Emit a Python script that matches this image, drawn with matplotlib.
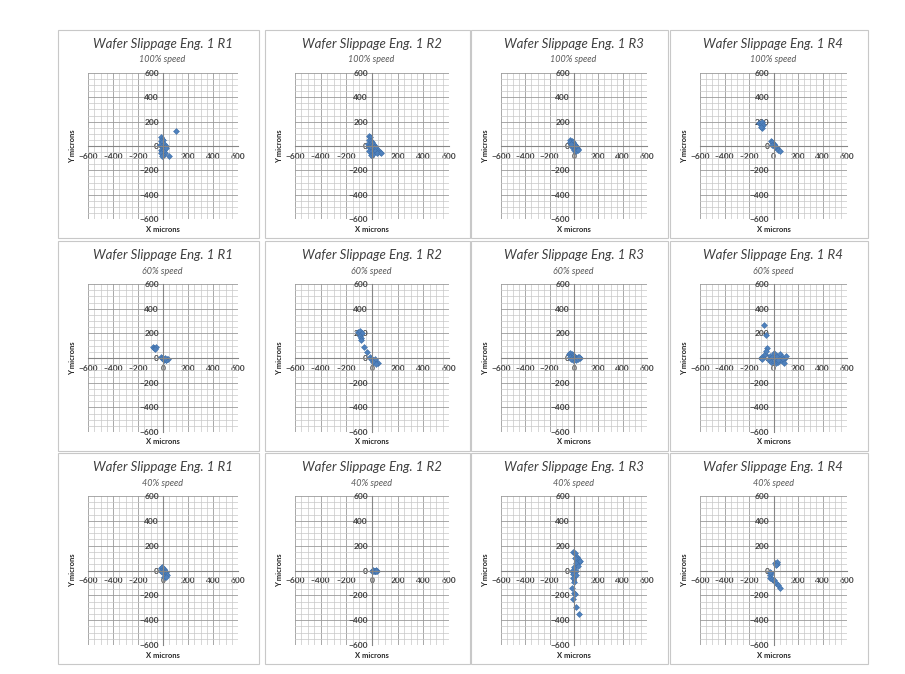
import matplotlib.pyplot as plt
from matplotlib.patches import Rectangle
from matplotlib.ticker import MultipleLocator

plt.rcParams['font.family'] = ['Lato', 'DejaVu Sans']

# run names and speeds
runs = ['R1', 'R2', 'R3', 'R4']
speeds = ['100% speed', '60% speed', '40% speed']
ticks = [-600, -400, -200, 0, 200, 400, 600]

# 100% speed
x_100_r1 = [-20, -10, 0, -15, -5, 5, -25, -10, 0, 10, -20, -5, 5, 15, -15, 0, 10, -10, 20, 25, 45, 100]
y_100_r1 = [70, 60, 50, 40, 30, 20, 10, 0, -10, -20, -30, -40, -50, -55, -60, -70, -30, -80, 0, -20, -80, 120]
x_100_r2 = [-25, -15, -20, -10, 0, -30, -15, 5, 20, -25, -5, 15, 35, 50, -20, 0, 25, 45, 65, -10, 10, 40, 70]
y_100_r2 = [80, 70, 50, 40, 30, 20, 10, 15, 0, -10, -5, -10, -20, -30, -40, -40, -40, -50, -50, -70, -65, -60, -60]
x_100_r3 = [-30, -20, -35, -10, 0, -20, -5, 10, 20, -15, 5, 25, 35, 0, 15, 30, -25]
y_100_r3 = [50, 45, 30, 30, 20, 10, 0, 10, 0, -10, -15, -20, -25, -35, -40, -30, 20]
x_100_r4 = [-120, -105, -95, -85, -90, -100, -20, -10, 0, 5, 15, 20, 30, 40, 50, -15, 10]
y_100_r4 = [190, 180, 200, 175, 150, 160, 40, 30, 20, 5, -5, -10, -20, -30, -40, 10, 0]

# 60% speed
x_60_r1 = [-80, -70, -60, -65, -20, -10, 0, 10, 20, 30, 40, 5, 25, 15]
y_60_r1 = [90, 85, 90, 75, 10, 0, -5, -10, -15, -10, -5, -20, -20, 0]
x_60_r2 = [-110, -100, -90, -80, -95, -85, -85, -60, -40, -15, -5, 5, 15, 25, 35, 45, 20, 10, 30]
y_60_r2 = [210, 200, 215, 200, 180, 160, 150, 90, 50, 5, -5, -15, -25, -30, -35, -40, -10, -30, -45]
x_60_r3 = [-40, -30, -20, -10, 0, 10, -35, -15, 5, 20, 35, 50, -5, 15, 30, -25, 45]
y_60_r3 = [30, 40, 35, 25, 20, 10, 10, 0, -5, 0, 5, 0, -15, -20, -10, -10, 10]
x_60_r4 = [-80, -60, -100, -90, -70, -50, -30, -10, 10, 30, 50, 70, 90, -40, -20, 0, 20, 40, 60, 80, -60, 0, 40, 85, 100, -95]
y_60_r4 = [270, 190, 0, 10, 30, 80, 20, 10, 0, 20, 30, 10, 0, -20, -30, -30, -40, -30, -20, -10, 60, 40, -20, -40, 20, -10]

# 40% speed
x_40_r1 = [-20, -10, 0, 10, -15, 0, 15, 25, 5, 20, 30, 10, 25, -5]
y_40_r1 = [20, 25, 10, 15, 0, -5, 0, -10, -20, -30, -40, -50, -55, -10]
x_40_r2 = [0, 10, 20, 30, 40, 15, 25, 5, 35]
y_40_r2 = [0, 5, 0, 5, 0, -8, -5, -5, -3]
x_40_r3 = [-10, 10, 25, 35, 45, 20, 50, 0, 15, -20, -10, 20, -10, 0, -20, 0, 10, -10, 20, 40, 30, 5]
y_40_r3 = [150, 140, 110, 90, 70, 60, 75, 30, 0, 0, -30, -40, -60, -90, -140, -180, -190, -230, -290, -350, 40, 100]
x_40_r4 = [15, 25, 30, 20, -20, -30, -25, -15, 0, 20, 40, 50, -25]
y_40_r4 = [60, 55, 65, 45, -20, -40, -60, -70, -80, -100, -120, -140, -10]

data = [
    [(x_100_r1, y_100_r1), (x_100_r2, y_100_r2), (x_100_r3, y_100_r3), (x_100_r4, y_100_r4)],
    [(x_60_r1, y_60_r1), (x_60_r2, y_60_r2), (x_60_r3, y_60_r3), (x_60_r4, y_60_r4)],
    [(x_40_r1, y_40_r1), (x_40_r2, y_40_r2), (x_40_r3, y_40_r3), (x_40_r4, y_40_r4)],
]

W, H = 905, 674
fig = plt.figure(figsize=(W / 100, H / 100), dpi=100)

# frame boxes in pixels
cols = [(58, 259), (265, 470), (471, 668), (670, 868)]
rows = [(30, 238), (241, 451), (453, 664)]

def fx(px):
    return px / W

def fy(py):
    return 1 - py / H

for i, (top, bot) in enumerate(rows):
    for j, (left, right) in enumerate(cols):
        fig.patches.append(Rectangle((fx(left), fy(bot)), fx(right - left), (bot - top) / H,
                                     transform=fig.transFigure, fill=False,
                                     edgecolor='#c8c8c8', linewidth=0.8))
        cx = (left + right) / 2 + 4
        fig.text(fx(cx), fy(top + 14), 'Wafer Slippage Eng. 1 ' + runs[j], ha='center', va='center',
                 fontsize=9.5, style='italic', color='#404040')
        fig.text(fx(cx), fy(top + 30), speeds[i], ha='center', va='center',
                 fontsize=6.5, style='italic', color='#595959')
        # plot area
        pl, pr = left + 30, right - 21
        pt, pb = top + 43, bot - 19
        ax = fig.add_axes([fx(pl), fy(pb), fx(pr - pl), (pb - pt) / H])
        ax.set_xlim(-600, 600)
        ax.set_ylim(-600, 600)
        ax.xaxis.set_minor_locator(MultipleLocator(50))
        ax.yaxis.set_minor_locator(MultipleLocator(50))
        ax.set_xticks(ticks)
        ax.set_yticks(ticks)
        ax.grid(which='major', color='#9a9a9a', linewidth=0.6)
        ax.grid(which='minor', color='#c8c8c8', linewidth=0.5)
        ax.set_axisbelow(True)
        for s in ['top', 'right']:
            ax.spines[s].set_visible(False)
        ax.spines['left'].set_position('zero')
        ax.spines['bottom'].set_position('zero')
        ax.spines['left'].set_color('#868686')
        ax.spines['bottom'].set_color('#868686')
        ax.tick_params(which='both', length=0, labelsize=6, labelcolor='#404040')
        ax.tick_params(axis='x', pad=5)
        ax.tick_params(axis='y', pad=3)
        for lab in ax.get_xticklabels() + ax.get_yticklabels():
            lab.set_fontweight('bold')
        x, y = data[i][j]
        ax.plot(x, y, linestyle='none', marker='D', markersize=3,
                color='#4F81BD', markeredgecolor='#3f6fa8', markeredgewidth=0.4)
        fig.text(fx((pl + pr) / 2), fy(pb + 10), 'X microns', ha='center', va='center',
                 fontsize=5.5, fontweight='bold', color='#262626')
        fig.text(fx(left + 15), fy((pt + pb) / 2), 'Y microns', ha='center', va='center',
                 fontsize=5.5, fontweight='bold', color='#262626', rotation=90)

fig.savefig('out.png', dpi=100)
